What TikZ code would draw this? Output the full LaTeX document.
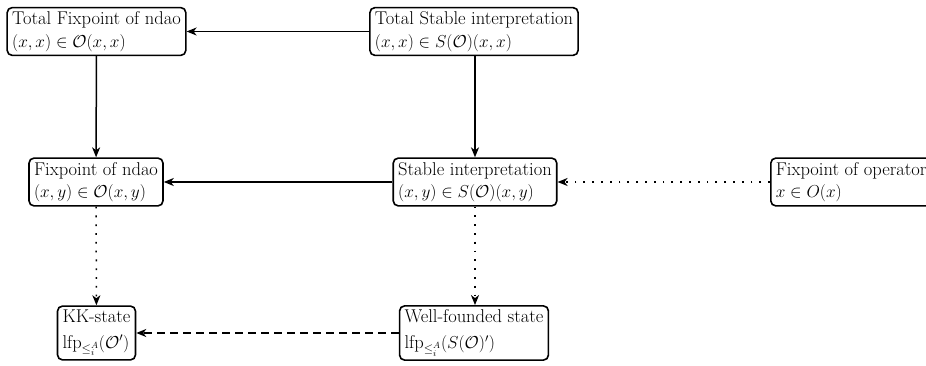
\documentclass[tikz,border=0pt]{standalone}
\usepackage{fontspec}
\usetikzlibrary{arrows.meta}
\begin{document}
\begin{tikzpicture}[x=1pt,y=1pt,
  box/.style={draw, line width=1.6pt, rounded corners=5pt, align=left,
    inner xsep=5pt, inner ysep=4pt, font=\fontsize{18.5}{22.5}\selectfont},
  conn/.style={line width=1.5pt, -{Stealth[length=10pt,width=8pt,inset=3pt]}},
  dotline/.style={conn, dash pattern=on 1.8pt off 7pt},
  dashline/.style={conn, dash pattern=on 8pt off 5pt}]
\useasboundingbox (0,0) rectangle (926,366);
\clip (0,0) rectangle (926,366);
\node[box] (TF) at (96.5,334.5) {Total Fixpoint of ndao\\$(x,x)\in\mathcal{O}(x,x)$};
\node[box] (TS) at (474,334.5) {Total Stable interpretation\\$(x,x)\in S(\mathcal{O})(x,x)$};
\node[box] (F) at (96,184) {Fixpoint of ndao\\$(x,y)\in\mathcal{O}(x,y)$};
\node[box] (S) at (475,184) {Stable interpretation\\$(x,y)\in S(\mathcal{O})(x,y)$};
\node[box, anchor=west] (FO) at (770,184) {Fixpoint of operator\\$x\in O(x)$};
\node[box] (KK) at (96.5,33) {KK-state\\[3pt]$\mathrm{lfp}_{\leq_i^A}(\mathcal{O}')$};
\node[box] (WF) at (474,33) {Well-founded state\\[3pt]$\mathrm{lfp}_{\leq_i^A}(S(\mathcal{O})')$};
\draw[conn] (TS) -- (TF);
\draw[conn] (TF) -- (F);
\draw[conn] (TS.south -| S) -- (S);
\draw[conn] (S) -- (F);
\draw[dotline] (FO) -- (S);
\draw[dotline] (F) -- (KK);
\draw[dotline] (S) -- (WF.north -| S);
\draw[dashline] (WF) -- (KK);
\end{tikzpicture}
\end{document}
